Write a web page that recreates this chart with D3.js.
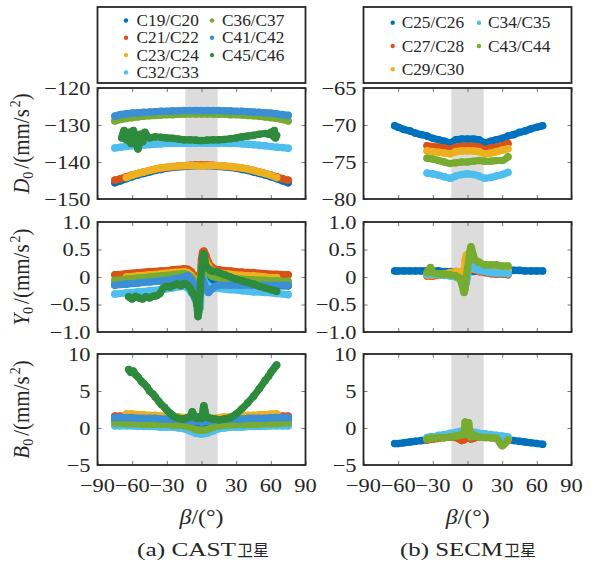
<!DOCTYPE html>
<html lang="zh">
<head>
<meta charset="UTF-8" />
<title>D0 Y0 B0 vs beta</title>
<script src="https://cdn.jsdelivr.net/npm/d3@7"></script>
<style>
    body { margin: 0; background: #fff; }
    svg { display: block; }
    text { font-family: 'Liberation Serif', 'Times New Roman', serif; fill: #262626; }
</style>
</head>
<body>
<div id="chart"></div>
<script>
// beta grids (degrees) the values below were read at
const betaCast = [-75,-70,-65,-60,-55,-50,-45,-40,-35,-30,-25,-20,-15,-10,-5,0,5,10,15,20,25,30,35,40,45,50,55,60,65,70,75]
const betaCast65 = [-65,-60,-55,-50,-45,-40,-35,-30,-25,-20,-15,-10,-5,0,5,10,15,20,25,30,35,40,45,50,55,60,65]
const betaCastY = [-75,-65,-55,-45,-35,-25,-15,-12,-9,-6,-4,-2,-1,0,1,2,4,6,9,12,15,25,35,45,55,65,75]
const betaCastY65 = [-65,-55,-45,-35,-25,-15,-12,-9,-6,-4,-2,-1,0,1,2,4,6,9,12,15,25,35,45,55,65]
const betaC45D0 = [-69,-67,-65,-63,-61,-59,-57,-55,-53,-51,-49,-47,-45,-40,-35,-30,-25,-20,-15,-10,-5,0,5,10,15,20,25,30,35,40,45,50,55,58,60,62,63,64,65]
const betaC45Y0 = [-63,-60,-57,-54,-51,-48,-45,-42,-39,-36,-33,-30,-27,-24,-21,-18,-15,-12,-10,-8,-6,-4,-3,-2,-1,0,1,2,3,4,6,8,10,12,15,20,25,30,35,40,45,50,55,60,65]
const betaC45B0 = [-63,-61,-59,-57,-55,-52,-50,-47,-45,-42,-40,-37,-35,-32,-30,-27,-25,-22,-20,-17,-15,-12,-10,-8,-6,-4,-2,0,2,3,4,6,8,10,12,15,20,25,30,35,40,45,50,55,58,60,62,64,65]
const betaSecmW = [-63,-60,-55,-50,-45,-40,-35,-30,-25,-20,-15,-10,-5,0,5,10,15,20,25,30,35,40,45,50,55,60,65]
const betaSecm = [-35,-30,-25,-20,-15,-10,-5,0,5,10,15,20,25,30,35]
const betaSecmY = [-35,-32,-30,-25,-20,-15,-10,-7,-5,-3,-2,-1,0,1,2,3,5,7,10,15,20,25,30,35]

// CAST satellites
const c19D0 = [-145.6,-145.1,-144.5,-144,-143.5,-143.1,-142.7,-142.3,-142,-141.7,-141.5,-141.3,-141.2,-141.1,-141,-141,-141,-141.1,-141.2,-141.3,-141.5,-141.7,-142,-142.3,-142.7,-143.1,-143.5,-144,-144.5,-145.1,-145.6]
const c21D0 = [-144.9,-144.5,-144,-143.5,-143.1,-142.7,-142.3,-142,-141.7,-141.5,-141.3,-141.1,-141,-140.9,-140.8,-140.8,-140.8,-140.9,-141,-141.1,-141.3,-141.5,-141.7,-142,-142.3,-142.7,-143.1,-143.5,-144,-144.5,-144.9]
const c23D0 = [-144.2,-143.6,-143.1,-142.7,-142.3,-141.9,-141.6,-141.4,-141.2,-141.1,-141,-141,-141,-141.1,-141,-141,-141,-141.1,-141.2,-141.4,-141.6,-141.9,-142.3,-142.7,-143.1,-143.6,-144.2]
const c32D0 = [-136.2,-136,-135.8,-135.6,-135.5,-135.4,-135.3,-135.2,-135.1,-135,-135,-134.9,-134.9,-134.9,-134.9,-134.9,-134.9,-134.9,-134.9,-134.9,-135,-135,-135.1,-135.2,-135.3,-135.5,-135.6,-135.8,-136,-136.1,-136.3]
const c36D0 = [-128.9,-128.5,-128.2,-128,-127.8,-127.6,-127.5,-127.4,-127.3,-127.2,-127.2,-127.1,-127.1,-127,-127,-127,-127,-127,-127.1,-127.1,-127.2,-127.2,-127.3,-127.4,-127.5,-127.6,-127.8,-128,-128.2,-128.5,-128.9]
const c41D0 = [-127.6,-127.2,-127,-126.8,-126.7,-126.6,-126.5,-126.4,-126.3,-126.3,-126.2,-126.2,-126.1,-126.1,-126.1,-126.1,-126.1,-126.1,-126.1,-126.2,-126.2,-126.3,-126.3,-126.4,-126.5,-126.6,-126.7,-126.8,-127,-127.2,-127.4]
const c45D0 = [-133.5,-131.5,-134,-132,-135,-131.5,-133.5,-136.5,-132.5,-134.5,-132,-133,-133.5,-133.2,-133.3,-133.5,-133.6,-133.8,-134,-134,-134.1,-134.2,-134.1,-134,-134,-133.9,-133.7,-133.5,-133.2,-133,-132.8,-132.5,-132.3,-132.5,-132,-133,-131.5,-133.5,-132.8]

const c19Y0 = [-0.14,-0.12,-0.1,-0.08,-0.06,-0.04,-0.02,-0.04,-0.1,-0.18,-0.3,-0.4,-0.2,0,0.1,0.08,0,-0.08,-0.12,-0.13,-0.14,-0.14,-0.15,-0.15,-0.15,-0.16,-0.16]
const c21Y0 = [0.04,0.06,0.08,0.1,0.11,0.13,0.15,0.14,0.1,0.02,-0.06,-0.12,0.05,0.32,0.45,0.47,0.38,0.27,0.18,0.14,0.13,0.11,0.09,0.08,0.06,0.05,0.04]
const c23Y0 = [0,0.02,0.04,0.06,0.08,0.1,0.08,0.03,-0.05,-0.15,-0.22,-0.05,0.15,0.3,0.32,0.28,0.2,0.12,0.1,0.08,0.05,0.03,0.02,0,-0.01]
const c32Y0 = [-0.31,-0.29,-0.27,-0.25,-0.23,-0.2,-0.17,-0.2,-0.28,-0.38,-0.5,-0.62,-0.55,-0.1,0,-0.05,-0.12,-0.16,-0.19,-0.2,-0.21,-0.23,-0.25,-0.27,-0.28,-0.3,-0.32]
const c36Y0 = [-0.06,-0.04,-0.02,0,0.02,0.04,0.06,0.04,0,-0.08,-0.18,-0.28,-0.1,0.1,0.2,0.22,0.15,0.08,0.02,0,-0.02,-0.03,-0.04,-0.05,-0.06,-0.07,-0.08]
const c41Y0 = [-0.15,-0.13,-0.11,-0.09,-0.07,-0.04,0,0.02,-0.05,-0.15,-0.25,-0.35,-0.3,-0.15,-0.05,-0.1,-0.22,-0.28,-0.22,-0.17,-0.15,-0.15,-0.15,-0.15,-0.15,-0.15,-0.15]
const c45Y0 = [-0.36,-0.4,-0.35,-0.38,-0.4,-0.36,-0.38,-0.35,-0.34,-0.3,-0.2,-0.17,-0.18,-0.15,-0.13,-0.16,-0.12,-0.15,-0.2,-0.28,-0.35,-0.5,-0.72,-0.55,-0.2,0.15,0.35,0.42,0.3,0.2,0.15,0.12,0.1,0.1,0.08,0.04,0,-0.04,-0.07,-0.1,-0.13,-0.17,-0.2,-0.23,-0.26]

const c19B0 = [1.2,1.2,1.1,1.1,1.1,1.1,1.1,1,1,1,1,1,0.9,0.8,0.6,0.5,0.6,0.8,0.9,1,1,1,1,1,1.1,1.1,1.1,1.1,1.2,1.2,1.2]
const c21B0 = [1.6,1.6,1.5,1.5,1.4,1.4,1.4,1.4,1.3,1.3,1.3,1.3,1.2,1.1,1,0.9,1,1.1,1.2,1.3,1.3,1.3,1.3,1.4,1.4,1.4,1.5,1.5,1.5,1.6,1.6]
const c23B0 = [1.9,1.9,1.8,1.8,1.7,1.7,1.6,1.6,1.5,1.5,1.4,1.3,1.2,1.2,1.2,1.3,1.4,1.5,1.5,1.6,1.6,1.7,1.7,1.8,1.8,1.9,1.9]
const c32B0 = [0.3,0.3,0.3,0.3,0.2,0.2,0.2,0.2,0.1,0.1,0.1,0,-0.1,-0.4,-0.7,-0.8,-0.7,-0.4,-0.1,0,0.1,0.1,0.1,0.2,0.2,0.2,0.2,0.3,0.3,0.3,0.3]
const c36B0 = [0.7,0.7,0.6,0.6,0.6,0.5,0.5,0.5,0.5,0.5,0.4,0.4,0.3,0.1,-0.2,-0.3,-0.2,0.1,0.3,0.4,0.4,0.5,0.5,0.5,0.5,0.5,0.6,0.6,0.6,0.7,0.7]
const c41B0 = [1.4,1.4,1.4,1.4,1.3,1.3,1.3,1.3,1.2,1.2,1.2,1.2,1.1,1,0.9,0.8,0.9,1,1.1,1.2,1.2,1.2,1.2,1.3,1.3,1.3,1.3,1.4,1.4,1.4,1.4]
const c45B0 = [7.9,7.5,7.7,7.2,6.9,6.3,6,5.5,5,4.6,4.2,3.6,3.2,2.8,2.4,2,1.7,1.4,1.3,1.2,1.2,1.4,1.5,2.2,1.6,1.3,1.5,1.3,3,2.3,1.6,1.4,1.3,1.2,1.2,1.1,1.2,1.4,1.9,2.6,3.4,4.3,5.3,6.4,7,7.5,7.9,8.3,8.5]

// SECM satellites
const c25D0 = [-70.1,-70.3,-70.6,-70.8,-71.1,-71.3,-71.5,-71.8,-72,-72.2,-72.4,-72,-71.9,-71.9,-71.9,-72,-72.4,-72.2,-72,-71.8,-71.5,-71.3,-71,-70.8,-70.5,-70.3,-70.1]
const c27D0 = [-72.8,-72.9,-73,-73.1,-73.3,-73,-72.9,-72.9,-72.9,-73,-73.3,-73.1,-73,-72.8,-72.5]
const c29D0 = [-73.5,-73.6,-73.7,-73.8,-73.9,-73.6,-73.5,-73.5,-73.5,-73.6,-73.9,-73.8,-73.6,-73.4,-73.2]
const c34D0 = [-76.5,-76.6,-76.8,-77,-77.2,-76.9,-76.7,-76.6,-76.7,-76.9,-77.2,-77.1,-76.9,-76.7,-76.4]
const c43D0 = [-74.5,-74.6,-74.8,-75,-75.2,-75.1,-75,-75,-74.9,-74.8,-74.9,-74.9,-74.8,-74.8,-74.3]

const c25Y0 = [0.11,0.11,0.11,0.11,0.11,0.11,0.11,0.11,0.11,0.1,0.1,0.1,0.1,0.1,0.1,0.1,0.1,0.12,0.12,0.12,0.12,0.12,0.12,0.11,0.11,0.11,0.11]
const c27Y0 = [0.02,0.02,0.02,0.03,0.03,0.04,0.05,0.05,0.03,0,-0.05,0,0.1,0.2,0.25,0.2,0.15,0.12,0.1,0.08,0.06,0.05,0.05,0.04]
const c29Y0 = [0.04,0.04,0.04,0.05,0.06,0.08,0.1,0.1,0.08,0.1,0.3,0.4,0.35,0.25,0.2,0.18,0.15,0.14,0.12,0.12,0.15,0.15,0.14,0.12]
const c34Y0 = [0.05,0.05,0.05,0.04,0.03,0.02,0,-0.03,-0.06,-0.12,-0.15,-0.1,0,0.15,0.25,0.3,0.2,0.15,0.12,0.1,0.08,0.07,0.07,0.06]
const c43Y0 = [0.08,0.17,0.08,0.06,0.05,0.04,0.02,-0.02,-0.12,-0.28,-0.2,0,0.15,0.3,0.45,0.55,0.4,0.3,0.27,0.22,0.22,0.22,0.2,0.2]

const c25B0 = [-2.1,-2.1,-2,-1.9,-1.8,-1.7,-1.6,-1.5,-1.3,-1.2,-1,-0.9,-0.8,-0.8,-0.8,-0.9,-1,-1.2,-1.3,-1.4,-1.5,-1.7,-1.8,-1.9,-2,-2.1,-2.2]
const c27B0 = [-1.6,-1.5,-1.5,-1.4,-1.3,-1.2,-1.3,-1.5,-1.7,-1.6,-1.4,-1.2,-1,-1.2,-1.4,-1.5,-1.4,-1.3,-1.2,-1.2,-1.3,-1.4,-1.5,-1.7]
const c29B0 = [-1.4,-1.3,-1.3,-1.1,-1,-0.8,-0.6,-0.5,-0.4,-0.3,-0.2,-0.2,-0.3,-0.4,-0.5,-0.5,-0.6,-0.7,-0.8,-0.9,-1,-1.1,-1.2,-1.4]
const c34B0 = [-1.3,-1.2,-1.2,-1,-0.9,-0.7,-0.6,-0.5,-0.5,-0.6,-0.7,-0.8,-0.8,-0.8,-0.7,-0.6,-0.6,-0.6,-0.7,-0.8,-0.9,-1,-1.1,-1.2]
const c43B0 = [-1.5,-1.4,-1.4,-1.3,-1.3,-1.2,-1.1,-1,-0.9,-0.6,0.8,0.3,-0.8,0.7,-0.5,-1.2,-0.9,-1.1,-1.2,-1.3,-1.3,-1.4,-2.4,-1.6]

const xTicks = [-90, -60, -30, 0, 30, 60, 90]
const shadeRange = [-14, 14]

const castSeries = [
    { name: 'C19/C20', color: '#0072bd', bD0: betaCast, d0: c19D0, bY0: betaCastY, y0: c19Y0, bB0: betaCast, b0: c19B0 },
    { name: 'C21/C22', color: '#d95319', bD0: betaCast, d0: c21D0, bY0: betaCastY, y0: c21Y0, bB0: betaCast, b0: c21B0 },
    { name: 'C23/C24', color: '#edb120', bD0: betaCast65, d0: c23D0, bY0: betaCastY65, y0: c23Y0, bB0: betaCast65, b0: c23B0 },
    { name: 'C32/C33', color: '#4dbeee', bD0: betaCast, d0: c32D0, bY0: betaCastY, y0: c32Y0, bB0: betaCast, b0: c32B0 },
    { name: 'C36/C37', color: '#77ac30', bD0: betaCast, d0: c36D0, bY0: betaCastY, y0: c36Y0, bB0: betaCast, b0: c36B0 },
    { name: 'C41/C42', color: '#3b8fd4', bD0: betaCast, d0: c41D0, bY0: betaCastY, y0: c41Y0, bB0: betaCast, b0: c41B0 },
    { name: 'C45/C46', color: '#2e8a3d', bD0: betaC45D0, d0: c45D0, bY0: betaC45Y0, y0: c45Y0, bB0: betaC45B0, b0: c45B0 },
]
const secmSeries = [
    { name: 'C25/C26', color: '#0072bd', bD0: betaSecmW, d0: c25D0, bY0: betaSecmW, y0: c25Y0, bB0: betaSecmW, b0: c25B0 },
    { name: 'C27/C28', color: '#d95319', bD0: betaSecm, d0: c27D0, bY0: betaSecmY, y0: c27Y0, bB0: betaSecmY, b0: c27B0 },
    { name: 'C29/C30', color: '#edb120', bD0: betaSecm, d0: c29D0, bY0: betaSecmY, y0: c29Y0, bB0: betaSecmY, b0: c29B0 },
    { name: 'C34/C35', color: '#4dbeee', bD0: betaSecm, d0: c34D0, bY0: betaSecmY, y0: c34Y0, bB0: betaSecmY, b0: c34B0 },
    { name: 'C43/C44', color: '#77ac30', bD0: betaSecm, d0: c43D0, bY0: betaSecmY, y0: c43Y0, bB0: betaSecmY, b0: c43B0 },
]

const svg = d3.select('#chart').append('svg').attr('width', 596).attr('height', 562)
const ink = '#262626'

const cols = [
    { x0: 97.5, x1: 305.5 },
    { x0: 363.5, x1: 571.5 },
]
const rows = [
    { y0: 88, y1: 199, key: 'd0', bkey: 'bD0', sym: 'D' },
    { y0: 222, y1: 332, key: 'y0', bkey: 'bY0', sym: 'Y' },
    { y0: 354, y1: 465, key: 'b0', bkey: 'bB0', sym: 'B' },
]
const yDomains = [
    [[-150, -120], [-80, -65]],
    [[-1, 1], [-1, 1]],
    [[-5, 10], [-5, 10]],
]
const yTicks = [
    [[-120, -130, -140, -150], [-65, -70, -75, -80]],
    [[1, 0.5, 0, -0.5, -1], [1, 0.5, 0, -0.5, -1]],
    [[10, 5, 0, -5], [10, 5, 0, -5]],
]
const yFormats = [d3.format('d'), (v) => (v === 0 ? '0' : d3.format('.1f')(v)), d3.format('d')]

const label = (x, y, str, anchor, size, sx) =>
    svg.append('text')
        .attr('transform', `translate(${x},${y}) scale(${sx},1)`)
        .attr('text-anchor', anchor)
        .attr('font-size', size)
        .text(str)

let clipCount = 0
const drawPanel = (col, row, domain, ticks, fmt, series, showX) => {
    const x = d3.scaleLinear().domain([-90, 90]).range([col.x0, col.x1])
    const y = d3.scaleLinear().domain(domain).range([row.y1, row.y0])
    const id = 'clip' + clipCount++
    svg.append('clipPath').attr('id', id).append('rect')
        .attr('x', col.x0).attr('y', row.y0).attr('width', col.x1 - col.x0).attr('height', row.y1 - row.y0)

    const g = svg.append('g')
    g.append('rect')
        .attr('x', x(shadeRange[0])).attr('y', row.y0)
        .attr('width', x(shadeRange[1]) - x(shadeRange[0])).attr('height', row.y1 - row.y0)
        .attr('fill', '#dcdcdc')

    const pg = g.append('g').attr('clip-path', `url(#${id})`)
    const line = d3.line().x((d) => x(d[0])).y((d) => y(d[1])).curve(d3.curveMonotoneX)
    series.forEach((s) => {
        const pts = s[row.bkey].map((b, i) => [b, s[row.key][i]])
        pg.append('path').datum(pts)
            .attr('d', line)
            .attr('fill', 'none')
            .attr('stroke', s.color)
            .attr('stroke-width', 7.2)
            .attr('stroke-linejoin', 'round')
            .attr('stroke-linecap', 'round')
        pg.selectAll(null).data(pts).enter().append('circle')
            .attr('cx', (d) => x(d[0])).attr('cy', (d) => y(d[1]))
            .attr('r', 3.8)
            .attr('fill', s.color)
    })

    // inward ticks on all four sides
    const tickStyle = (sel) => {
        sel.select('.domain').remove()
        sel.selectAll('line').attr('stroke', '#555').attr('stroke-width', 0.8)
    }
    g.append('g').attr('transform', `translate(0,${row.y1})`)
        .call(d3.axisBottom(x).tickValues(xTicks).tickSize(-4).tickFormat('')).call(tickStyle)
    g.append('g').attr('transform', `translate(0,${row.y0})`)
        .call(d3.axisTop(x).tickValues(xTicks).tickSize(-4).tickFormat('')).call(tickStyle)
    g.append('g').attr('transform', `translate(${col.x0},0)`)
        .call(d3.axisLeft(y).tickValues(ticks).tickSize(-4).tickFormat('')).call(tickStyle)
    g.append('g').attr('transform', `translate(${col.x1},0)`)
        .call(d3.axisRight(y).tickValues(ticks).tickSize(-4).tickFormat('')).call(tickStyle)

    g.append('rect')
        .attr('x', col.x0).attr('y', row.y0).attr('width', col.x1 - col.x0).attr('height', row.y1 - row.y0)
        .attr('fill', 'none').attr('stroke', ink).attr('stroke-width', 1.8)

    ticks.forEach((v) => label(col.x0 - 7, y(v) + 6.5, fmt(v), 'end', 19, 1.18))
    if (showX) {
        xTicks.forEach((v) => label(x(v), 492, d3.format('d')(v), 'middle', 19, 1.18))
    }
}

rows.forEach((row, r) => {
    drawPanel(cols[0], row, yDomains[r][0], yTicks[r][0], yFormats[r], castSeries, r === 2)
    drawPanel(cols[1], row, yDomains[r][1], yTicks[r][1], yFormats[r], secmSeries, r === 2)

    // rotated y label, e.g. D0/(mm/s^2)
    const t = svg.append('text')
        .attr('transform', `translate(29,${(row.y0 + row.y1) / 2}) rotate(-90) scale(1,1.1)`)
        .attr('text-anchor', 'middle')
        .attr('font-size', 21)
    t.append('tspan').attr('font-style', 'italic').text(row.sym)
    t.append('tspan').attr('font-size', 14).attr('dy', 4).text('0')
    t.append('tspan').attr('dy', -4).attr('dx', 3).text('/(mm/s')
    t.append('tspan').attr('font-size', 14).attr('dy', -8).attr('dx', 2).text('2')
    t.append('tspan').attr('dy', 8).text(')')
})

// x labels and captions
const captions = [
    { x: 201.5, a: '(a) CAST', aStart: 137, aLen: 99 },
    { x: 467.7, a: '(b) SECM', aStart: 400, aLen: 103 },
]
captions.forEach((c) => {
    const t = svg.append('text')
        .attr('x', c.x).attr('y', 524)
        .attr('text-anchor', 'middle')
        .attr('font-size', 20)
        .attr('textLength', 44).attr('lengthAdjust', 'spacingAndGlyphs')
    t.append('tspan').attr('font-style', 'italic').text('β')
    t.append('tspan').text('/(°)')

    svg.append('text')
        .attr('x', c.aStart).attr('y', 556)
        .attr('font-size', 19)
        .attr('textLength', c.aLen).attr('lengthAdjust', 'spacingAndGlyphs')
        .text(c.a)
    svg.append('text')
        .attr('x', c.aStart + c.aLen + 1).attr('y', 556)
        .attr('font-size', 16)
        .style('font-family', "'Noto Sans CJK SC', sans-serif")
        .text('卫星')
})

// legends
const drawLegend = (col, series, perCol, markX, textX, rowY, rowStep) => {
    svg.append('rect')
        .attr('x', col.x0).attr('y', 7).attr('width', col.x1 - col.x0).attr('height', 76)
        .attr('fill', '#fff').attr('stroke', ink).attr('stroke-width', 1.8)
    series.forEach((s, i) => {
        const c = Math.floor(i / perCol)
        const r = i % perCol
        const cy = rowY + r * rowStep
        svg.append('circle').attr('cx', markX[c]).attr('cy', cy).attr('r', 2.2).attr('fill', s.color)
        label(textX[c], cy + 5.5, s.name, 'start', 16, 1.08)
    })
}
drawLegend(cols[0], castSeries, 4, [126, 212], [136.5, 222], 20.5, 17.3)
drawLegend(cols[1], secmSeries, 3, [392.7, 479], [401.7, 488], 22.7, 23.3)
</script>
</body>
</html>
